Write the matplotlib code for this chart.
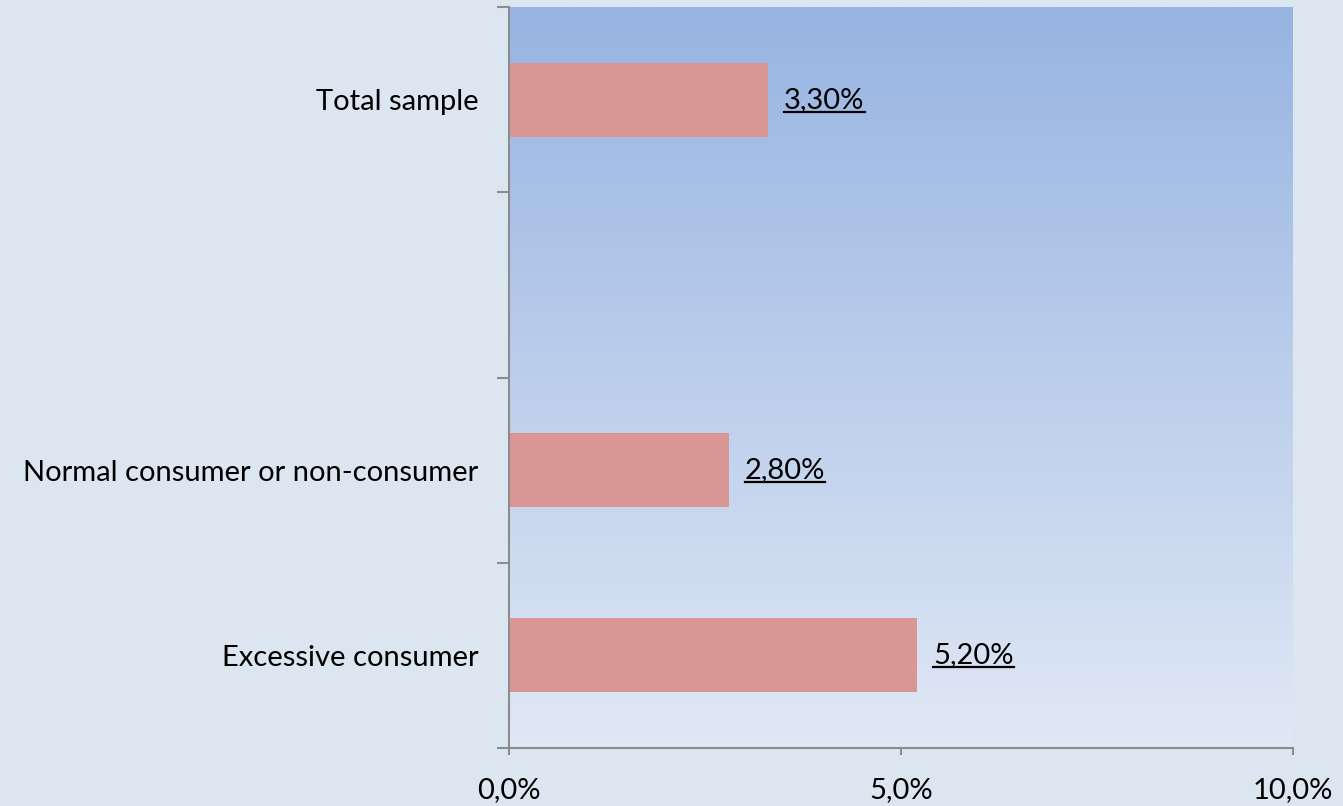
import matplotlib.pyplot as plt
import matplotlib.colors as mcolors
import numpy as np

plt.rcParams['font.family'] = ['Lato', 'DejaVu Sans']

categories = ["Total sample", "", "Normal consumer or non-consumer", "Excessive consumer"]
values = [3.30, None, 2.80, 5.20]
value_labels = ["3,30%", None, "2,80%", "5,20%"]
x_ticks = [0, 5, 10]
x_tick_labels = ["0,0%", "5,0%", "10,0%"]

BG = "#dce6f1"
BAR = "#d99694"
AXIS = "#8c8c8c"
FS = 21

fig = plt.figure(figsize=(13.43, 8.06), dpi=100)
fig.patch.set_facecolor(BG)
ax = fig.add_axes([509 / 1343, 1 - 748 / 806, (1293 - 509) / 1343, (748 - 7) / 806])

# vertical gradient for the plot area
cmap = mcolors.LinearSegmentedColormap.from_list("area", ["#e0e8f5", "#97b4e2"])
grad = np.linspace(0, 1, 256).reshape(-1, 1)
ax.imshow(grad, aspect="auto", cmap=cmap, origin="lower",
          extent=[0, 10, 3.5, -0.5], zorder=0)

ypos = np.arange(len(categories))
for y, v in zip(ypos, values):
    if v is not None:
        ax.barh(y, v, height=0.4, color=BAR, zorder=2)

ax.set_xlim(0, 10)
ax.set_ylim(3.5, -0.5)

ax.set_yticks(ypos)
ax.set_yticklabels(categories, fontsize=FS)
ax.tick_params(axis="y", which="major", length=0, pad=22)
ax.set_yticks(np.arange(-0.5, 4.0, 1.0), minor=True)
ax.tick_params(axis="y", which="minor", length=9, width=1.5, color=AXIS, direction="out")

ax.set_xticks(x_ticks)
ax.set_xticklabels(x_tick_labels, fontsize=FS)
ax.tick_params(axis="x", length=5, width=1.5, color=AXIS, pad=16)

for side in ["top", "right"]:
    ax.spines[side].set_visible(False)
for side in ["left", "bottom"]:
    ax.spines[side].set_color(AXIS)
    ax.spines[side].set_linewidth(1.5)
    ax.spines[side].set_zorder(3)

# underlined value labels
texts = []
for y, v, lab in zip(ypos, values, value_labels):
    if v is not None:
        t = ax.text(v + 0.21, y, lab, fontsize=FS, va="center", ha="left", zorder=4)
        texts.append(t)

fig.canvas.draw()
renderer = fig.canvas.get_renderer()
inv = ax.transData.inverted()
for t in texts:
    bb = t.get_window_extent(renderer)
    (x0, y0) = inv.transform((bb.x0, bb.y0 + 1))
    (x1, _) = inv.transform((bb.x1, bb.y0 + 1))
    ax.plot([x0, x1], [y0, y0], color="black", lw=1.6, zorder=4, clip_on=False)

fig.savefig("out.png", dpi=100, facecolor=BG)
